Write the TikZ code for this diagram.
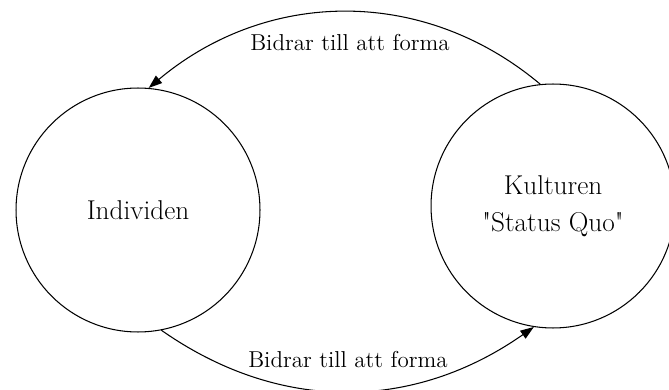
\documentclass[tikz,border=0pt]{standalone}
\usepackage{fontspec}
\usetikzlibrary{arrows.meta}
\begin{document}
\begin{tikzpicture}[x=0.02cm, y=0.02cm, line width=0.6pt,
    sphere/.style={draw, circle, inner sep=0pt, minimum size=4.88cm,
      align=center, font=\fontsize{15.5}{19}\selectfont},
    flow/.style={-{Triangle[length=0.27cm, width=0.19cm]}},
    flowlabel/.style={inner sep=0pt, font=\fontsize{13.1}{15}\selectfont}]
    \useasboundingbox (0,0) rectangle (669,389) ;
    \node [sphere] (indiv) at (138,179) {Individen} ;
    \node [sphere] (kultur) at (553,183) {Kulturen\\[2pt]\textquotedbl Status Quo\textquotedbl} ;
    \draw [flow] (kultur.96) to [out=140, in=40] (indiv.85) ;
    \draw [flow] (indiv.-79) to [out=-35, in=-145] (kultur.-99) ;
    \node [flowlabel] (toplabel) at (350,346) {Bidrar till att forma} ;
    \node [flowlabel] (botlabel) at (348,29) {Bidrar till att forma} ;
\end{tikzpicture}
\end{document}
